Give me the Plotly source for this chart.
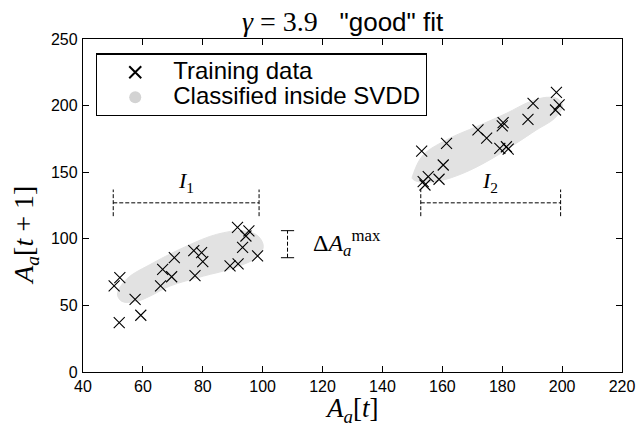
import plotly.graph_objects as go

# ---- data ----
left_x = [50.4, 52.3, 52.1, 57.4, 59.3, 65.9, 66.6, 69.6, 70.5, 77.4,
          77.0, 79.6, 80.0, 89.1, 91.8, 91.6, 95.4, 94.4, 93.3, 98.3]
left_y = [64.6, 70.8, 37.0, 54.6, 42.6, 64.6, 77.1, 71.5, 85.8, 72.3,
          91.1, 89.6, 82.8, 79.6, 81.1, 108.6, 105.9, 102.1, 93.6, 87.1]

right_x = [198.1, 199.0, 197.8, 190.3, 188.6, 180.3, 180.0, 171.9, 174.8, 179.2,
           181.4, 182.0, 161.4, 153.1, 160.3, 155.3, 158.9, 154.2, 153.6]
right_y = [210.0, 200.5, 196.7, 201.7, 189.7, 187.2, 184.7, 181.7, 175.5, 167.9,
           169.1, 167.4, 171.7, 165.9, 155.4, 146.6, 144.7, 140.4, 143.0]

# outline of the region classified inside the SVDD
reg1_x = [51.5, 54.6, 63.5, 74.6, 84.6, 93.5, 98.5, 100.2, 98.0, 89.1, 80.2, 69.0, 62.4, 57.9, 53.0, 51.5]
reg1_y = [58.5, 69.8, 82.0, 94.5, 103.3, 106.0, 102.0, 94.1, 86.0, 77.3, 72.0, 64.5, 57.0, 53.0, 53.0, 58.5]
reg2_x = [150.3, 153.6, 162.5, 171.4, 181.4, 189.2, 194.8, 198.6, 200.2, 197.5, 191.4, 184.8, 175.8, 166.9, 159.2, 152.5, 150.0, 150.3]
reg2_y = [148.6, 162.9, 175.5, 184.2, 194.2, 202.9, 206.2, 205.0, 199.7, 190.5, 181.7, 171.9, 159.2, 149.2, 143.6, 142.6, 145.2, 148.6]

interval_y = 127
interval_half = 10
delta_x = 108.3
delta_range = [85.8, 106.1]

x_ticks = [40, 60, 80, 100, 120, 140, 160, 180, 200, 220]
y_ticks = [0, 50, 100, 150, 200, 250]

MATH = "Liberation Serif"
SANS = "Liberation Sans"
GRAY = "#e2e2e2"

fig = go.Figure()

for rx, ry in [(reg1_x, reg1_y), (reg2_x, reg2_y)]:
    fig.add_trace(go.Scatter(x=rx, y=ry, mode="lines", fill="toself",
                             fillcolor=GRAY, line=dict(color=GRAY, width=1, shape="spline"),
                             showlegend=False, hoverinfo="skip"))

fig.add_trace(go.Scatter(x=left_x + right_x, y=left_y + right_y, mode="markers",
                         name="<span style='font-size:24px'>Training data</span>",
                         marker=dict(symbol="x-thin", size=11, color="black",
                                     line=dict(color="black", width=1.1))))
fig.add_trace(go.Scatter(x=[None], y=[None], mode="markers",
                         name="<span style='font-size:24px'>Classified inside SVDD</span>",
                         marker=dict(symbol="circle", size=11, color="#d3d3d3")))

# interval brackets
dash_line = dict(color="black", width=1, dash="4px,2px")
for xs in [[min(left_x), max(left_x)], [min(right_x), max(right_x)]]:
    a, b = xs[0] - 0.3, xs[1] + 0.5
    fig.add_trace(go.Scatter(x=[a, b], y=[interval_y, interval_y], mode="lines",
                             line=dash_line, showlegend=False, hoverinfo="skip"))
    for xv in (a, b):
        fig.add_trace(go.Scatter(x=[xv, xv], y=[interval_y - interval_half, interval_y + interval_half],
                                 mode="lines", line=dash_line, showlegend=False, hoverinfo="skip"))

# delta bracket
fig.add_trace(go.Scatter(x=[delta_x, delta_x], y=delta_range, mode="lines",
                         line=dash_line, showlegend=False, hoverinfo="skip"))
for yv in delta_range:
    fig.add_trace(go.Scatter(x=[delta_x - 2.2, delta_x + 2.2], y=[yv, yv], mode="lines",
                             line=dict(color="black", width=1), showlegend=False, hoverinfo="skip"))

annots = [
    dict(x=(min(left_x) + max(left_x)) / 2, y=143, text="<i>I</i><sub>1</sub>"),
    dict(x=(min(right_x) + max(right_x)) / 2, y=143, text="<i>I</i><sub>2</sub>"),
]
for a in annots:
    fig.add_annotation(x=a["x"], y=a["y"], text=a["text"], showarrow=False,
                       font=dict(family=MATH, size=22, color="black"))
fig.add_annotation(x=116.3, y=97, xanchor="left",
                   text="Δ<i>A</i><sub><i>a</i></sub><sup>max</sup>", showarrow=False,
                   font=dict(family=MATH, size=24, color="black"))

# axis titles and chart title
fig.add_annotation(xref="paper", yref="paper", x=0.498, y=-0.113, xanchor="center", yanchor="middle",
                   text="<i>A</i><sub><i>a</i></sub>[<i>t</i>]", showarrow=False,
                   font=dict(family=MATH, size=27, color="black"))
fig.add_annotation(xref="paper", yref="paper", x=-0.107, y=0.41, xanchor="center", yanchor="middle",
                   textangle=-90,
                   text="<i>A</i><sub><i>a</i></sub>[<i>t</i> + 1]", showarrow=False,
                   font=dict(family=MATH, size=28, color="black"))
fig.add_annotation(xref="paper", yref="paper", x=0.482, y=1.0, xanchor="center", yanchor="bottom", yshift=0,
                   text="<span style='font-family:Liberation Serif;font-size:28px'><i>γ</i> = 3.9</span>   \"good\" fit",
                   showarrow=False, font=dict(family=SANS, size=26, color="black"))

axis_common = dict(showline=True, linecolor="black", linewidth=1.3, mirror="allticks",
                   ticks="inside", ticklen=6, tickwidth=1, tickcolor="black",
                   showgrid=False, zeroline=False, automargin=False,
                   tickfont=dict(family=SANS, size=16, color="black"))

fig.update_xaxes(range=[40, 220], tickvals=x_ticks, ticktext=[str(v) for v in x_ticks],
                 ticklabelstandoff=0, **axis_common)
fig.update_yaxes(range=[0, 250], tickvals=y_ticks, ticktext=[str(v) for v in y_ticks],
                 ticklabelstandoff=1, **axis_common)

fig.update_layout(
    width=638, height=433,
    margin=dict(l=83, r=16, t=39, b=61, autoexpand=False),
    plot_bgcolor="white", paper_bgcolor="white",
    legend=dict(x=0.024, y=0.957, xanchor="left", yanchor="top",
                bordercolor="black", borderwidth=1.3, bgcolor="white",
                font=dict(family=SANS, size=17, color="black"),
                itemsizing="constant", tracegroupgap=0, itemwidth=66),
    showlegend=True,
)

fig.write_html("out.html", config={"displayModeBar": False},
               post_script="document.body.style.margin='0';document.body.style.overflow='hidden';")
